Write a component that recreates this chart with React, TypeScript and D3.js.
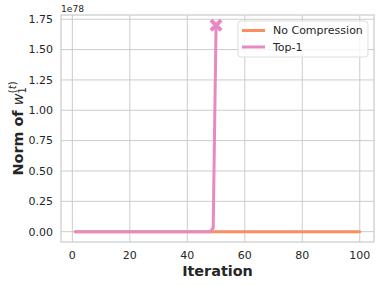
import React, { useEffect, useRef } from 'react';
import * as d3 from 'd3';

// iterations 1..100
const iterations = d3.range(1, 101);
// norm of w_1 (in units of 1e78)
const noCompression = iterations.map(() => 0);
const top1Iterations = d3.range(1, 51);
const top1Values = top1Iterations.map((it) => (it < 49 ? 0 : it === 49 ? 0.03 : 1.7));
const xTicks = [0, 20, 40, 60, 80, 100];
const yTicks = [0, 0.25, 0.5, 0.75, 1.0, 1.25, 1.5, 1.75];

const seriesNames = ['No Compression', 'Top-1'];
const seriesColors = ['#fc8d62', '#e78ac3'];

export default function App() {
  const ref = useRef<SVGSVGElement>(null);

  useEffect(() => {
    const svg = d3.select(ref.current);
    svg.selectAll('*').remove();

    const width = 380;
    const height = 285;
    const margin = { left: 61, right: 6, top: 15, bottom: 43 };
    const font = '"DejaVu Sans", sans-serif';
    const textColor = '#262626';
    const gridColor = '#cccccc';

    const x = d3.scaleLinear().domain([-3.95, 104.95]).range([margin.left, width - margin.right]);
    const y = d3.scaleLinear().domain([-0.085, 1.785]).range([height - margin.bottom, margin.top]);

    svg.attr('width', width).attr('height', height);

    const g = svg.append('g');

    // grid
    g.selectAll('.gx')
      .data(xTicks)
      .enter()
      .append('line')
      .attr('x1', (d) => x(d))
      .attr('x2', (d) => x(d))
      .attr('y1', y.range()[0])
      .attr('y2', y.range()[1])
      .attr('stroke', gridColor)
      .attr('stroke-width', 1);
    g.selectAll('.gy')
      .data(yTicks)
      .enter()
      .append('line')
      .attr('x1', x.range()[0])
      .attr('x2', x.range()[1])
      .attr('y1', (d) => y(d))
      .attr('y2', (d) => y(d))
      .attr('stroke', gridColor)
      .attr('stroke-width', 1);

    // frame
    g.append('rect')
      .attr('x', x.range()[0])
      .attr('y', y.range()[1])
      .attr('width', x.range()[1] - x.range()[0])
      .attr('height', y.range()[0] - y.range()[1])
      .attr('fill', 'none')
      .attr('stroke', gridColor)
      .attr('stroke-width', 1.25);

    // tick labels
    g.selectAll('.xt')
      .data(xTicks)
      .enter()
      .append('text')
      .attr('x', (d) => x(d))
      .attr('y', 259)
      .attr('text-anchor', 'middle')
      .attr('font-family', font)
      .attr('font-size', 11)
      .attr('fill', textColor)
      .text((d) => d3.format('d')(d));
    g.selectAll('.yt')
      .data(yTicks)
      .enter()
      .append('text')
      .attr('x', x.range()[0] - 8)
      .attr('y', (d) => y(d))
      .attr('dy', '0.35em')
      .attr('text-anchor', 'end')
      .attr('font-family', font)
      .attr('font-size', 11)
      .attr('fill', textColor)
      .text((d) => d3.format('.2f')(d));

    // offset text
    g.append('text')
      .attr('x', x.range()[0])
      .attr('y', 12)
      .attr('font-family', font)
      .attr('font-size', 9.2)
      .attr('fill', textColor)
      .text('1e78');

    // axis labels
    g.append('text')
      .attr('x', (x.range()[0] + x.range()[1]) / 2)
      .attr('y', 276)
      .attr('text-anchor', 'middle')
      .attr('font-family', font)
      .attr('font-size', 14.4)
      .attr('font-weight', 'bold')
      .attr('fill', textColor)
      .text('Iteration');

    const yl = g.append('text')
      .attr('transform', `translate(23, ${(y.range()[0] + y.range()[1]) / 2}) rotate(-90)`)
      .attr('text-anchor', 'middle')
      .attr('font-family', font)
      .attr('font-size', 14.4)
      .attr('font-weight', 'bold')
      .attr('fill', textColor);
    yl.append('tspan').text('Norm of ');
    yl.append('tspan').attr('font-style', 'italic').attr('font-weight', 'normal').text('w');
    yl.append('tspan').attr('font-size', 10).attr('font-weight', 'normal').attr('dy', 3).text('1');
    yl.append('tspan').attr('font-size', 10).attr('font-weight', 'normal').attr('dx', -6).attr('dy', -10).text('(');
    yl.append('tspan').attr('font-size', 10).attr('font-weight', 'normal').attr('font-style', 'italic').text('t');
    yl.append('tspan').attr('font-size', 10).attr('font-weight', 'normal').text(')');

    // lines
    const line = d3.line<[number, number]>()
      .x((d) => x(d[0]))
      .y((d) => y(d[1]));

    g.append('path')
      .datum(iterations.map((it, i) => [it, noCompression[i]] as [number, number]))
      .attr('d', line)
      .attr('fill', 'none')
      .attr('stroke', seriesColors[0])
      .attr('stroke-width', 3)
      .attr('stroke-linecap', 'round')
      .attr('stroke-linejoin', 'round');

    g.append('path')
      .datum(top1Iterations.map((it, i) => [it, top1Values[i]] as [number, number]))
      .attr('d', line)
      .attr('fill', 'none')
      .attr('stroke', seriesColors[1])
      .attr('stroke-width', 3)
      .attr('stroke-linecap', 'round')
      .attr('stroke-linejoin', 'round');

    // divergence marker
    const last = top1Iterations.length - 1;
    g.append('path')
      .attr('d', d3.symbol().type(d3.symbolX).size(70)())
      .attr('transform', `translate(${x(top1Iterations[last])}, ${y(top1Values[last])})`)
      .attr('fill', 'none')
      .attr('stroke', seriesColors[1])
      .attr('stroke-width', 4);

    // legend
    const lg = g.append('g').attr('transform', 'translate(238, 21)');
    lg.append('rect')
      .attr('width', 130)
      .attr('height', 36)
      .attr('rx', 3)
      .attr('fill', 'white')
      .attr('fill-opacity', 0.8)
      .attr('stroke', '#dddddd')
      .attr('stroke-width', 1);
    seriesNames.forEach((name, i) => {
      const yy = 9.5 + i * 16.5;
      lg.append('line')
        .attr('x1', 4)
        .attr('x2', 27)
        .attr('y1', yy)
        .attr('y2', yy)
        .attr('stroke', seriesColors[i])
        .attr('stroke-width', 3);
      lg.append('text')
        .attr('x', 35)
        .attr('y', yy)
        .attr('dy', '0.35em')
        .attr('font-family', font)
        .attr('font-size', 11)
        .attr('fill', textColor)
        .text(name);
    });
  }, []);

  return (
    <svg ref={ref} style={{ position: 'absolute', left: 0, top: 0 }}></svg>
  );
}
